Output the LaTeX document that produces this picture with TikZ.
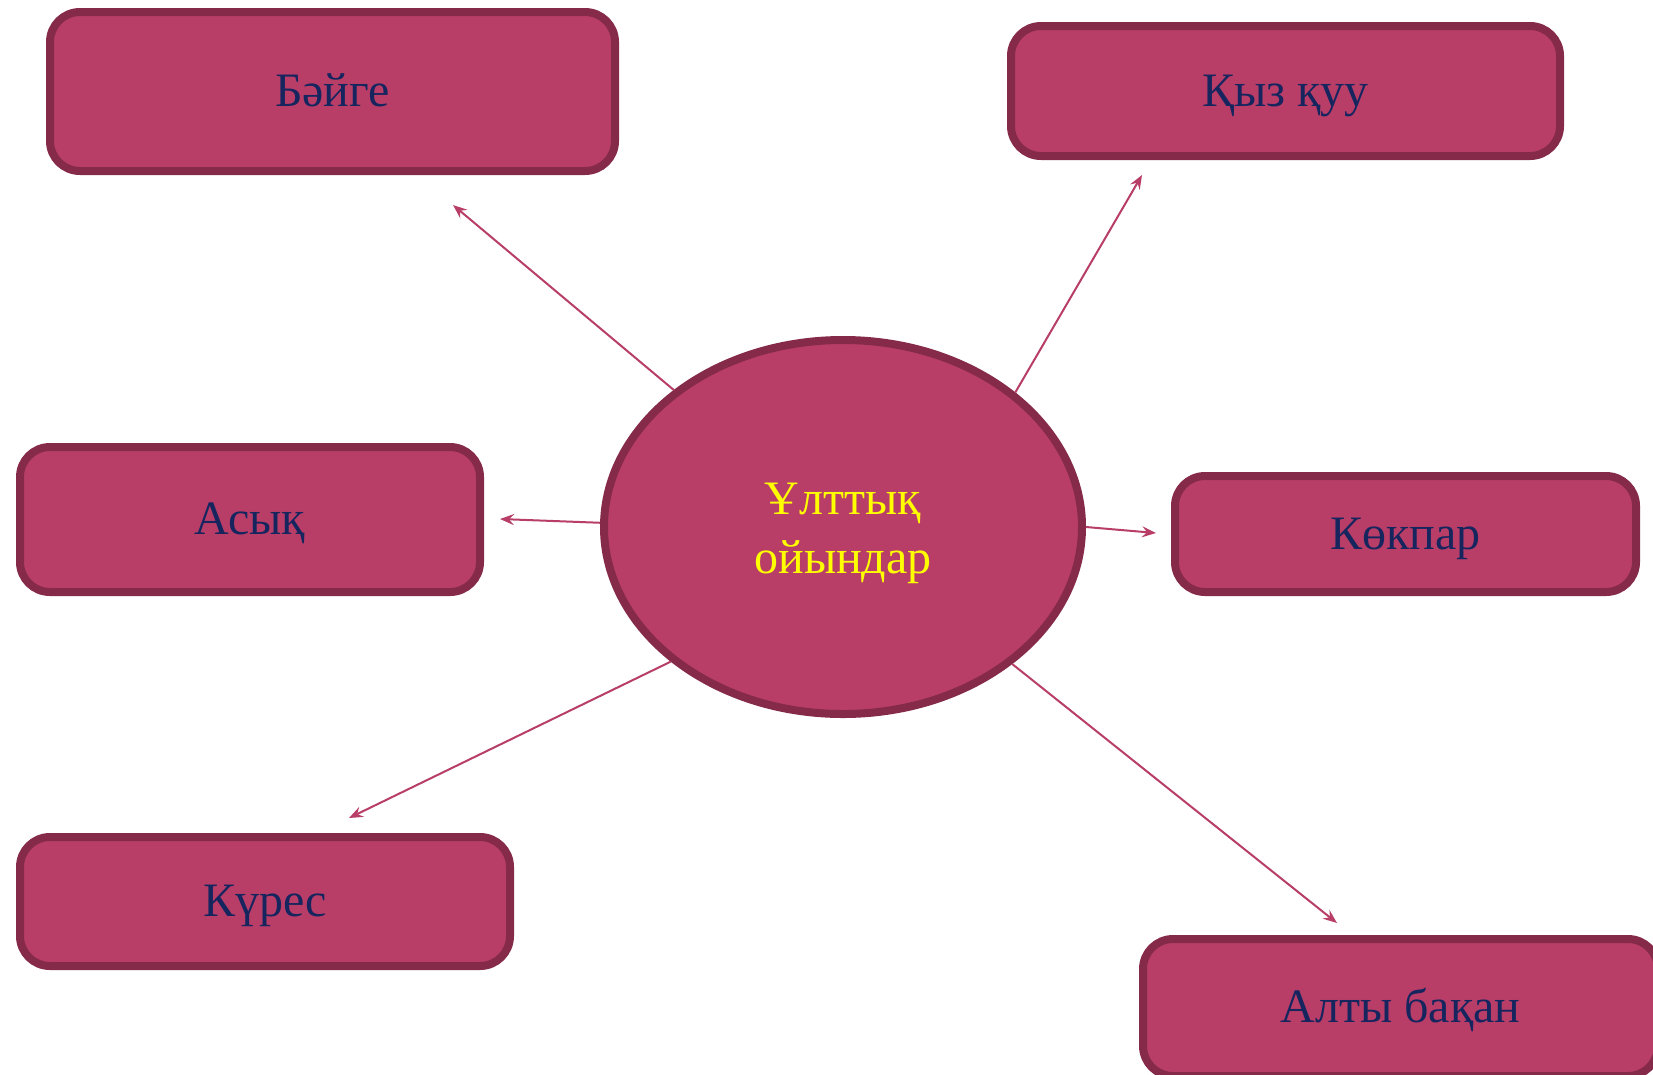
\documentclass[tikz,border=0pt]{standalone}
\usepackage{fontspec}
\setmainfont{Liberation Serif}
\usetikzlibrary{arrows.meta,shapes.geometric}
\definecolor{boxfill}{HTML}{B83E68}
\definecolor{boxline}{HTML}{862A4A}
\definecolor{txtnavy}{HTML}{17255F}
\definecolor{txtyellow}{HTML}{FFFF00}
\tikzset{
  gamebox/.style={draw=boxline, fill=boxfill, line width=8pt, rounded corners=30pt,
    inner sep=0pt, text=txtnavy, font=\fontsize{48}{56}\selectfont,
    text height=33pt, text depth=3pt},
  hub/.style={ellipse, draw=boxline, fill=boxfill, line width=8pt, inner sep=0pt,
    minimum width=478pt, minimum height=374pt, text=txtyellow, align=center,
    font=\fontsize{48}{58}\selectfont},
  link/.style={draw=boxfill, line width=2pt, -{Stealth[length=14pt,width=11pt,inset=5pt]}}
}
\begin{document}
\begin{tikzpicture}[x=1pt,y=-1pt]
\clip (0,0) rectangle (1653,1074);
\fill[white] (0,0) rectangle (1653,1074);
\node[gamebox, minimum width=565pt, minimum height=159pt] (baige) at (332.5,91.5) {Бәйге};
\node[gamebox, minimum width=549pt, minimum height=130pt] (kyz) at (1285.5,91) {Қыз қуу};
\node[gamebox, minimum width=460pt, minimum height=145pt] (asyk) at (250,519.5) {Асық};
\node[gamebox, minimum width=461pt, minimum height=116pt] (kokpar) at (1405.5,534) {Көкпар};
\node[gamebox, minimum width=490pt, minimum height=129pt] (kures) at (265,901.5) {Күрес};
\node[gamebox, minimum width=515pt, minimum height=137pt] (alty) at (1400.5,1007.5) {Алты бақан};
\node[hub] (c) at (843,527) {};
\node[text=txtyellow, align=center, font=\fontsize{48}{59}\selectfont, anchor=center] (ct) at (843,533) {Ұлттық\\ойындар};
\coordinate (e1) at (453,205);
\coordinate (e2) at (1142,175);
\coordinate (e3) at (500,519);
\coordinate (e4) at (1156,533);
\coordinate (e5) at (349,818);
\coordinate (e6) at (1337,923);
\draw[link] (c.141.8) -- (e1);
\draw[link] (c.38.5) -- (e2);
\draw[link] (c.179.5) -- (e3);
\draw[link] (c.0) -- (e4);
\draw[link] (c.218) -- (e5);
\draw[link] (c.321.7) -- (e6);
\end{tikzpicture}
\end{document}
